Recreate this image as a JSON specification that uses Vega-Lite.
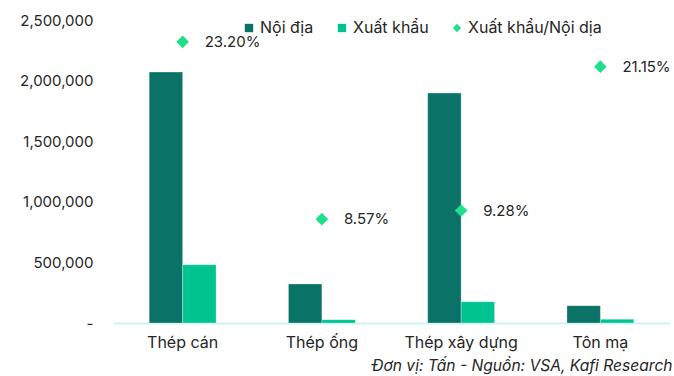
{
  "$schema": "https://vega.github.io/schema/vega-lite/v6.json",
  "autosize": {"type": "none"},
  "width": 557,
  "height": 303,
  "padding": {"left": 113, "top": 20, "right": 4, "bottom": 53},
  "background": "white",
  "config": {
    "font": "Inter",
    "view": {"stroke": null},
    "axis": {"labelFont": "Inter", "labelFontSize": 15, "labelColor": "#262626"},
    "legend": {"labelFont": "Inter", "labelFontSize": 16, "labelColor": "#262626"}
  },
  "title": {
    "text": "Đơn vị: Tấn - Nguồn: VSA, Kafi Research",
    "orient": "bottom",
    "anchor": "end",
    "font": "Inter",
    "fontSize": 15.6,
    "fontStyle": "italic",
    "fontWeight": "normal",
    "color": "#262626",
    "offset": 9,
    "dx": 2
  },
  "datasets": {
    "volumes": [
      {"sanPham": "Thép cán", "loai": "Nội địa", "tan": 2070000},
      {"sanPham": "Thép cán", "loai": "Xuất khẩu", "tan": 480240},
      {"sanPham": "Thép ống", "loai": "Nội địa", "tan": 322000},
      {"sanPham": "Thép ống", "loai": "Xuất khẩu", "tan": 27600},
      {"sanPham": "Thép xây dựng", "loai": "Nội địa", "tan": 1897000},
      {"sanPham": "Thép xây dựng", "loai": "Xuất khẩu", "tan": 176000},
      {"sanPham": "Tôn mạ", "loai": "Nội địa", "tan": 143000},
      {"sanPham": "Tôn mạ", "loai": "Xuất khẩu", "tan": 30250}
    ],
    "ratios": [
      {"sanPham": "Thép cán", "loai": "Xuất khẩu/Nội dịa", "tyLe": 0.2320},
      {"sanPham": "Thép ống", "loai": "Xuất khẩu/Nội dịa", "tyLe": 0.0857},
      {"sanPham": "Thép xây dựng", "loai": "Xuất khẩu/Nội dịa", "tyLe": 0.0928},
      {"sanPham": "Tôn mạ", "loai": "Xuất khẩu/Nội dịa", "tyLe": 0.2115}
    ]
  },
  "encoding": {
    "x": {
      "field": "sanPham",
      "type": "nominal",
      "sort": ["Thép cán", "Thép ống", "Thép xây dựng", "Tôn mạ"],
      "scale": {"paddingInner": 0.52, "paddingOuter": 0.26},
      "axis": {
        "title": null,
        "labelAngle": 0,
        "ticks": false,
        "domainColor": "#CDF1F7",
        "domainWidth": 2,
        "labelPadding": 11,
        "labelFontSize": 16
      }
    }
  },
  "layer": [
    {
      "data": {"name": "volumes"},
      "mark": {"type": "bar", "stroke": "white", "strokeOpacity": 0.35, "strokeWidth": 0.8},
      "encoding": {
        "xOffset": {"field": "loai", "type": "nominal", "sort": ["Nội địa", "Xuất khẩu"]},
        "y": {
          "field": "tan",
          "type": "quantitative",
          "scale": {"domain": [0, 2500000], "nice": false},
          "axis": {
            "title": null,
            "domain": false,
            "ticks": false,
            "grid": false,
            "tickCount": 5,
            "labelPadding": 20,
            "labelExpr": "datum.value == 0 ? '-  ' : format(datum.value, ',')"
          }
        },
        "color": {
          "field": "loai",
          "type": "nominal",
          "scale": {
            "domain": ["Nội địa", "Xuất khẩu", "Xuất khẩu/Nội dịa"],
            "range": ["#0B7268", "#00C48F", "#1EE08A"]
          },
          "legend": {
            "title": null,
            "orient": "none",
            "direction": "horizontal",
            "legendX": 128,
            "legendY": 0,
            "symbolSize": 70,
            "symbolStrokeWidth": 0,
            "labelOffset": 3,
            "columnPadding": 20
          }
        }
      }
    },
    {
      "data": {"name": "ratios"},
      "mark": {"type": "point", "filled": true, "size": 160, "opacity": 1},
      "encoding": {
        "y": {
          "field": "tyLe",
          "type": "quantitative",
          "scale": {"domain": [0, 0.25], "nice": false},
          "axis": null
        },
        "color": {"field": "loai", "type": "nominal"},
        "shape": {
          "field": "loai",
          "type": "nominal",
          "scale": {
            "domain": ["Nội địa", "Xuất khẩu", "Xuất khẩu/Nội dịa"],
            "range": ["square", "square", "diamond"]
          },
          "legend": {
            "title": null,
            "orient": "none",
            "direction": "horizontal",
            "legendX": 128,
            "legendY": 0,
            "symbolSize": 70,
            "symbolStrokeWidth": 0,
            "labelOffset": 3,
            "columnPadding": 20
          }
        }
      }
    },
    {
      "data": {"name": "ratios"},
      "mark": {"type": "text", "align": "left", "baseline": "middle", "dx": 22, "fontSize": 15, "font": "Inter", "color": "#262626"},
      "encoding": {
        "y": {"field": "tyLe", "type": "quantitative", "scale": {"domain": [0, 0.25], "nice": false}, "axis": null},
        "text": {"field": "tyLe", "type": "quantitative", "format": ".2%"}
      }
    }
  ],
  "resolve": {"scale": {"y": "independent"}}
}
